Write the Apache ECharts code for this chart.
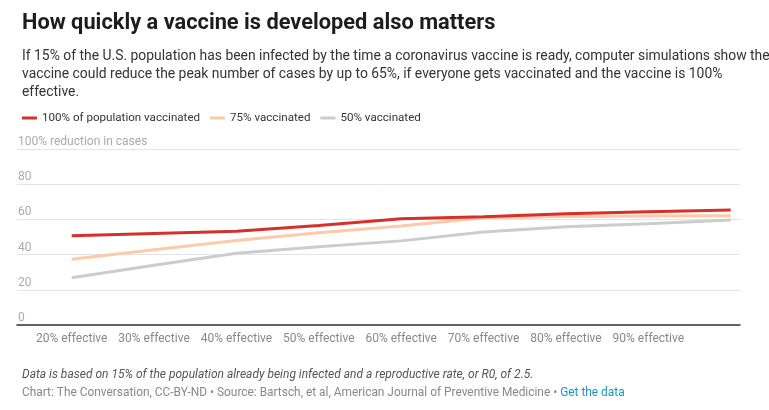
<!DOCTYPE html>
<html>
<head>
<meta charset="utf-8">
<script src="https://cdn.jsdelivr.net/npm/echarts@6/dist/echarts.min.js"></script>
<style>
html,body{margin:0;padding:0;background:#fff;}
#chart{width:769px;height:410px;}
</style>
</head>
<body>
<div id="chart"></div>
<script>
// Data
var efficacy = [20, 30, 40, 50, 60, 70, 80, 90, 100];          // % effective
var labelTicks = [20, 30, 40, 50, 60, 70, 80, 90];             // labelled x ticks
var pop100 = [50.7, 52.0, 53.3, 56.6, 60.4, 61.5, 63.2, 64.4, 65.3];
var pop75  = [37.3, 42.7, 48.0, 52.4, 56.2, 61.0, 61.7, 61.9, 62.1];
var pop50  = [26.9, 33.9, 40.8, 44.4, 47.8, 52.8, 55.8, 57.5, 59.6];
var yTicks = [0, 20, 40, 60, 80, 100];
var seriesNames = ['100% of population vaccinated', '75% vaccinated', '50% vaccinated'];

function pairs(vals){ return efficacy.map(function(x,i){ return [x, vals[i]]; }); }

var font = 'Roboto, "Noto Sans", sans-serif';
var chart = echarts.init(document.getElementById('chart'), null, {renderer:'canvas'});
chart.setOption({
  animation: false,
  backgroundColor: '#fff',
  textStyle: {fontFamily: font},
  title: [
    {text: 'How quickly a vaccine is developed also matters', left: 17, top: 8,
     textStyle: {fontSize: 21.8, fontWeight: 'bold', color: '#1d1d1d', fontFamily: font}},
    {text: 'If 15% of the U.S. population has been infected by the time a coronavirus vaccine is ready, computer simulations show the\nvaccine could reduce the peak number of cases by up to 65%, if everyone gets vaccinated and the vaccine is 100%\neffective.',
     left: 17, top: 43,
     textStyle: {fontSize: 13.9, fontWeight: 'normal', color: '#333', lineHeight: 17.7, fontFamily: font}},
    {text: '{i|Data is based on 15% of the population already being infected and a reproductive rate, or R0, of 2.5.}\n{g|Chart: The Conversation, CC-BY-ND • Source: Bartsch, et al, American Journal of Preventive Medicine • }{b|Get the data}',
     left: 17, top: 360,
     textStyle: {fontSize: 12, fontWeight: 'normal', lineHeight: 19, fontFamily: font,
       rich: {
         i: {fontSize: 12, fontStyle: 'italic', fontWeight: 'normal', color: '#555', fontFamily: font, lineHeight: 19},
         g: {fontSize: 11.9, fontWeight: 'normal', color: '#888', fontFamily: font, lineHeight: 19},
         b: {fontSize: 11.9, fontWeight: 'normal', color: '#1b95c6', fontFamily: font, lineHeight: 19}
       }}}
  ],
  legend: {
    left: 17, top: 107,
    data: seriesNames,
    icon: 'rect', itemWidth: 15, itemHeight: 3, itemGap: 10,
    textStyle: {fontSize: 11.6, color: '#333', fontFamily: font},
    selectedMode: false
  },
  grid: {left: 17, right: 29, top: 149, bottom: 85, containLabel: false},
  xAxis: {
    type: 'value', min: 13.36, max: 101.13,
    axisLine: {show: true, lineStyle: {color: '#333', width: 1.5}},
    axisTick: {show: false},
    splitLine: {show: false},
    axisLabel: {
      customValues: labelTicks,
      formatter: function(v){ return v + '% effective'; },
      color: '#888', fontSize: 12, margin: 8, fontFamily: font
    }
  },
  yAxis: {
    type: 'value', min: 0, max: 100, interval: 20,
    axisLine: {show: false}, axisTick: {show: false},
    splitLine: {show: true, lineStyle: {color: '#e4e4e4', width: 1}},
    axisLabel: {
      inside: true, margin: 1, verticalAlign: 'bottom', align: 'left',
      padding: [0,0,1,0],
      color: '#aaa', fontSize: 12, fontFamily: font,
      formatter: function(v){ return v === 100 ? '100% reduction in cases' : String(v); }
    }
  },
  series: [
    {name: seriesNames[0], type: 'line', data: pairs(pop100), z: 4, showSymbol: false,
     itemStyle: {color: '#d6302a'}, lineStyle: {color: '#d6302a', width: 3}},
    {name: seriesNames[1], type: 'line', data: pairs(pop75), z: 3, showSymbol: false,
     itemStyle: {color: '#fdc9a7'}, lineStyle: {color: '#fdc9a7', width: 3}},
    {name: seriesNames[2], type: 'line', data: pairs(pop50), z: 2, showSymbol: false,
     itemStyle: {color: '#cccccc'}, lineStyle: {color: '#cccccc', width: 3}}
  ]
});
</script>
</body>
</html>
